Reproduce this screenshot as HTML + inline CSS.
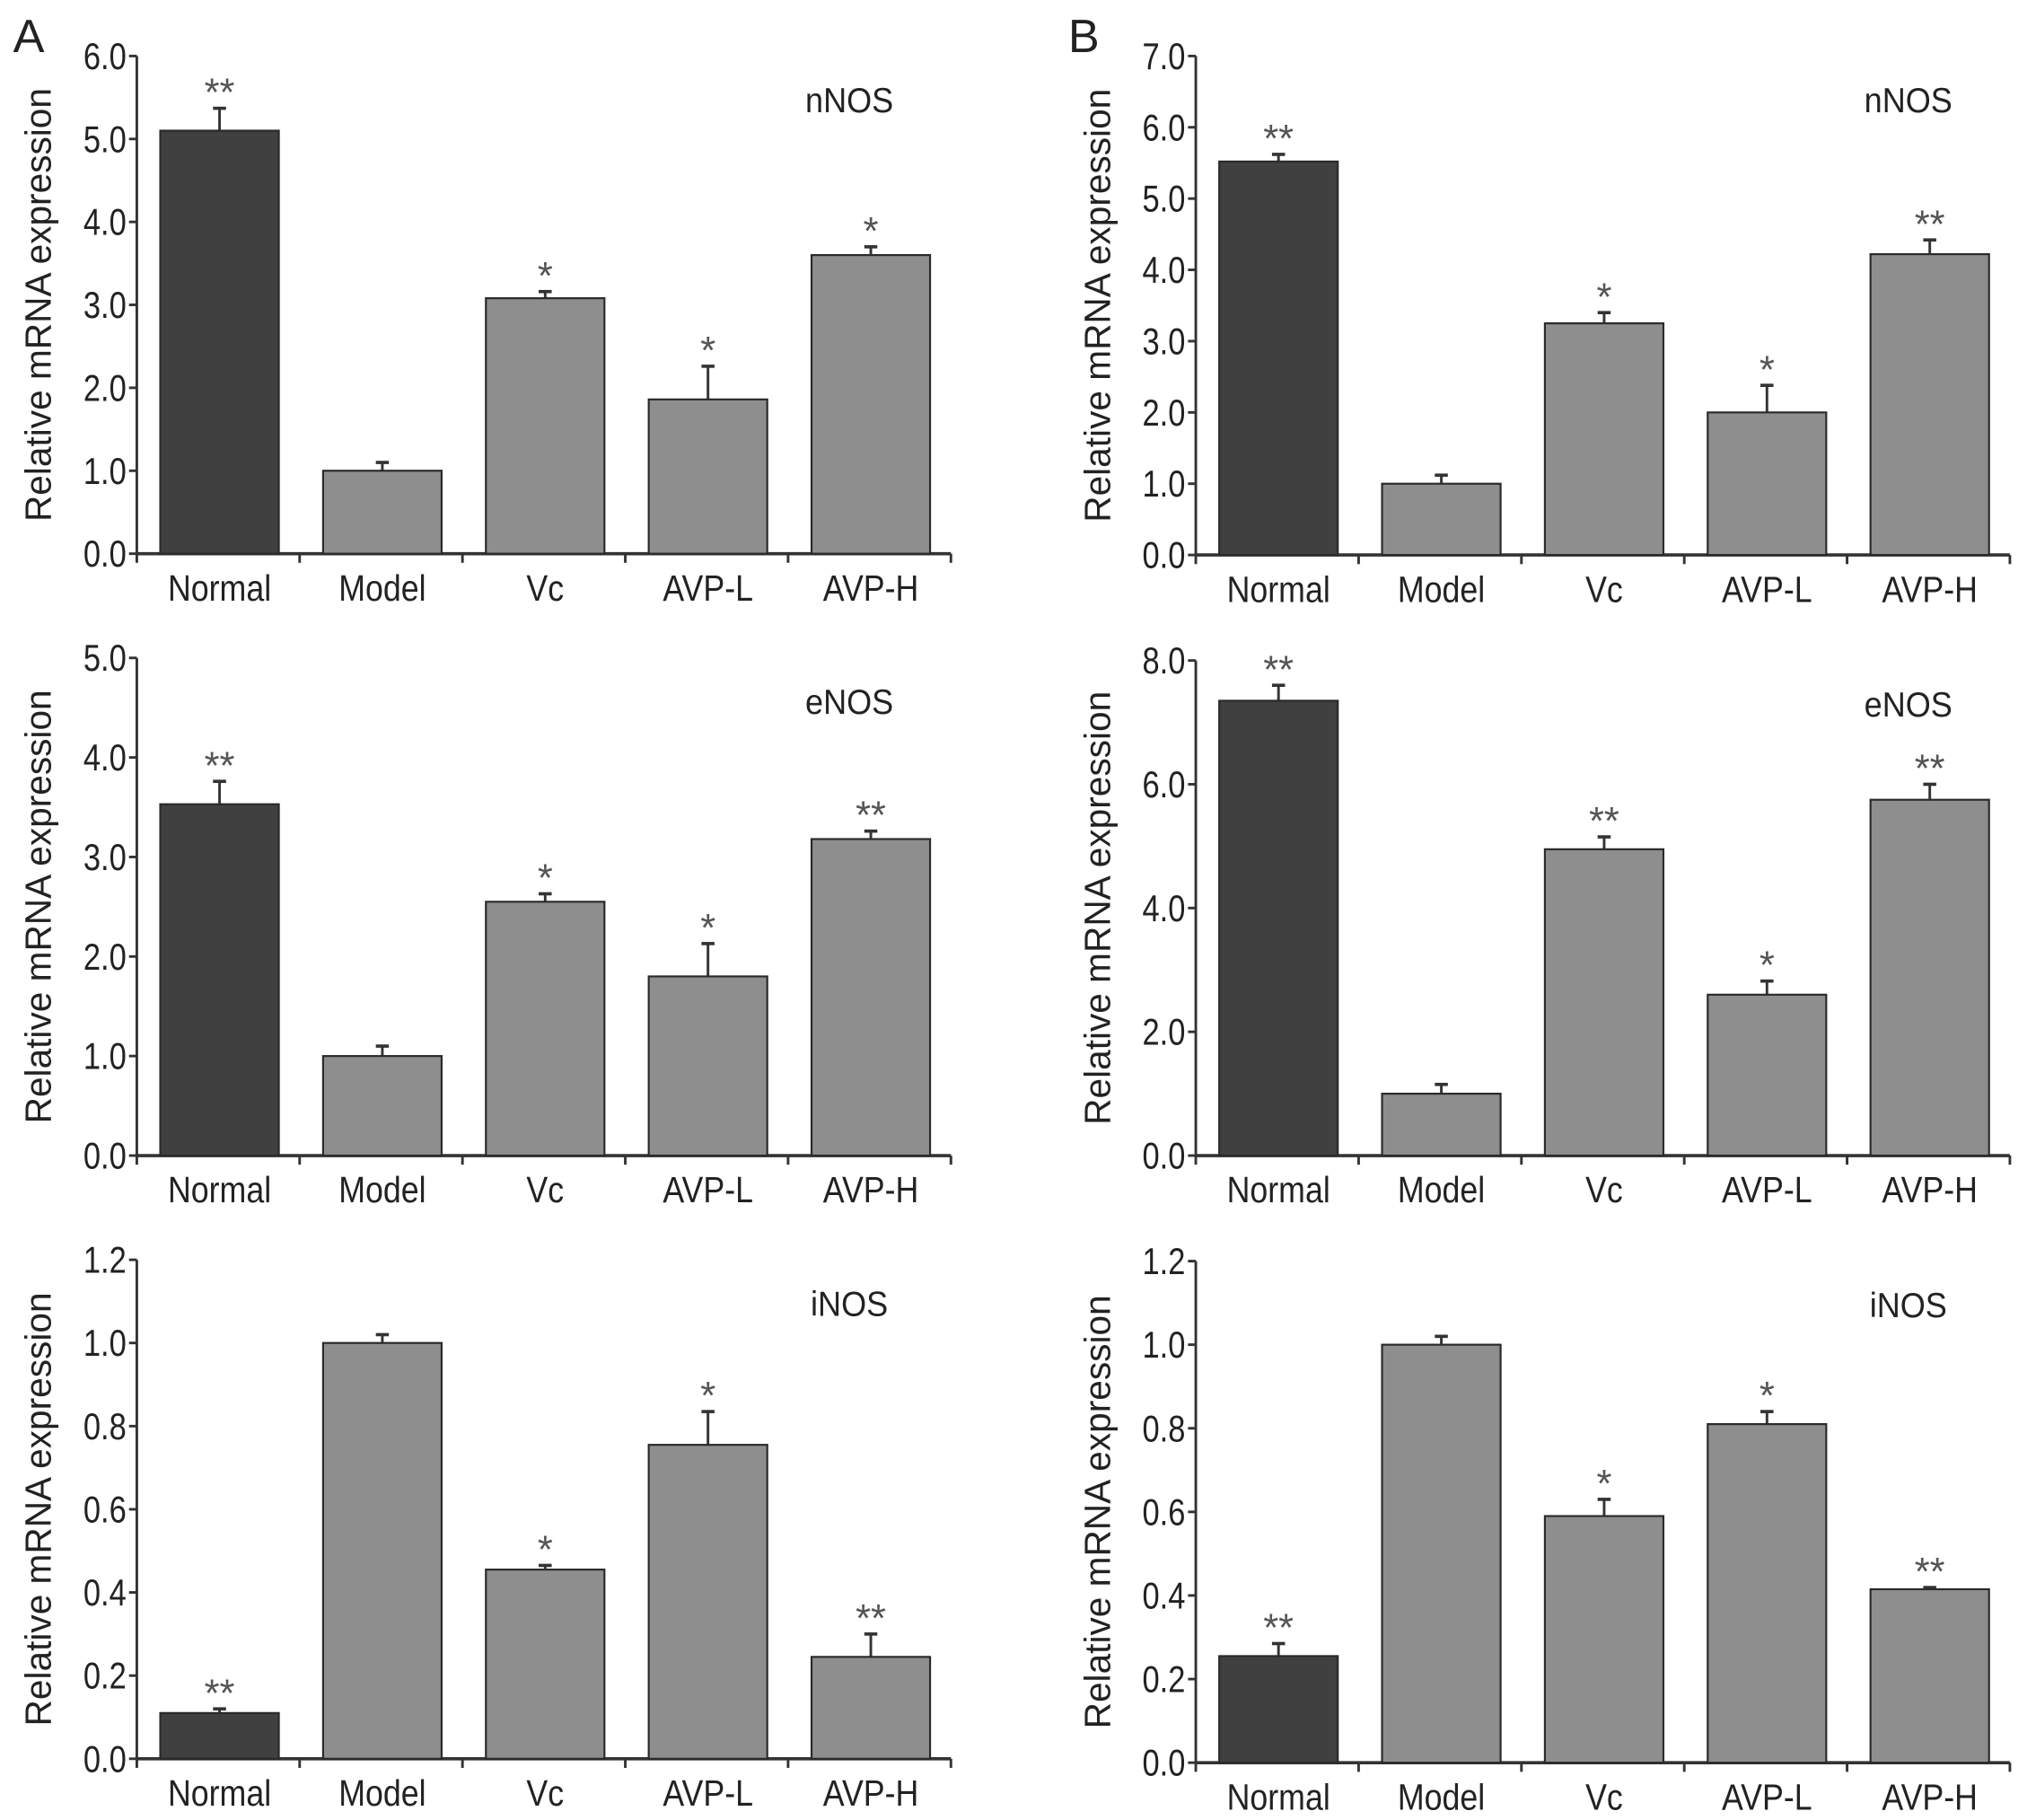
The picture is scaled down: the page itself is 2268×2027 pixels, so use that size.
<!DOCTYPE html>
<html><head><meta charset="utf-8"><style>
html,body{margin:0;padding:0;background:#fff;}
svg{display:block;}
text{font-family:"Liberation Sans",sans-serif;}
</style></head><body>
<svg id="fig" width="2268" height="2027" viewBox="0 0 1563 1397" xmlns="http://www.w3.org/2000/svg">
<text x="10" y="40" font-size="36" fill="#222">A</text>
<text x="820" y="40" font-size="36" fill="#222">B</text>
</svg>
<script>
const categories = ["Normal","Model","Vc","AVP-L","AVP-H"];
const aNnosVals = [5.1,1.0,3.08,1.86,3.6];
const aNnosErr = [0.27,0.1,0.08,0.4,0.1];
const aNnosSig = ["**","","*","*","*"];
const aEnosVals = [3.53,1.0,2.55,1.8,3.18];
const aEnosErr = [0.23,0.1,0.08,0.33,0.08];
const aEnosSig = ["**","","*","*","**"];
const aInosVals = [0.11,1.0,0.455,0.755,0.245];
const aInosErr = [0.01,0.02,0.01,0.08,0.055];
const aInosSig = ["**","","*","*","**"];
const bNnosVals = [5.52,1.0,3.25,2.0,4.22];
const bNnosErr = [0.1,0.12,0.15,0.38,0.2];
const bNnosSig = ["**","","*","*","**"];
const bEnosVals = [7.35,1.0,4.95,2.6,5.75];
const bEnosErr = [0.25,0.15,0.2,0.22,0.25];
const bEnosSig = ["**","","**","*","**"];
const bInosVals = [0.255,1.0,0.59,0.81,0.415];
const bInosErr = [0.03,0.02,0.04,0.03,0.004];
const bInosSig = ["**","","*","*","**"];
const ticksNnosA = [0,1,2,3,4,5,6];
const ticksEnosA = [0,1,2,3,4,5];
const ticks12 = [0,0.2,0.4,0.6,0.8,1.0,1.2];
const ticksNnosB = [0,1,2,3,4,5,6,7];
const ticksEnosB = [0,2,4,6,8];

const NS="http://www.w3.org/2000/svg";
const svg=document.getElementById('fig');
function mk(tag,attrs,parent){const e=document.createElementNS(NS,tag);for(const k in attrs)e.setAttribute(k,attrs[k]);(parent||svg).appendChild(e);return e;}

function panel(id,x0,yTop,yBot,ticks,vals,errs,sigs,gene,yTitleX){
  const g=mk('g',{});
  
  
  const max=ticks[ticks.length-1];
  const y=v=>yBot-(v/max)*(yBot-yTop);
  const step=125;
  const xEnd=x0+step*5;
  const band=i=>x0+18+i*step;
  const bw=91;
  const ya=mk('line',{x1:x0,y1:yTop,x2:x0,y2:yBot,stroke:'#333','stroke-width':2},g);
  
  
  ticks.forEach(t=>{
    mk('line',{x1:x0-6,y1:y(t),x2:x0,y2:y(t),stroke:'#333','stroke-width':2},g);
    const tl=mk('text',{x:x0-8,y:y(t)+10,'font-size':29,'text-anchor':'end',fill:'#222',transform:`translate(${x0-8},0) scale(0.82,1) translate(${-(x0-8)},0)`},g);
    tl.textContent=t.toFixed(1);
    
    
  });
  const xa=mk('line',{x1:x0,y1:yBot,x2:xEnd,y2:yBot,stroke:'#333','stroke-width':2.5},g);
  
  
  for(let i=0;i<=5;i++) mk('line',{x1:x0+i*step,y1:yBot,x2:x0+i*step,y2:yBot+7,stroke:'#333','stroke-width':2},g);
  categories.forEach((c,i)=>{
    const cx=band(i)+bw/2;
    const v=vals[i], e=errs[i];
    mk('line',{x1:cx,y1:y(v),x2:cx,y2:y(v+e),stroke:'#333','stroke-width':2},g);
    mk('line',{x1:cx-5,y1:y(v+e),x2:cx+5,y2:y(v+e),stroke:'#333','stroke-width':2.5},g);
    const r=mk('rect',{x:band(i),y:y(v),width:bw,height:yBot-y(v),fill:i===0?'#404040':'#8e8e8e',stroke:'#2a2a2a','stroke-width':1.5},g);
    
    
    if(sigs[i]){
      const s=mk('text',{x:cx,y:y(v+e)-2,'font-size':30,'text-anchor':'middle',fill:'#555'},g);
      s.textContent=sigs[i];
      
      
    }
    const xl=mk('text',{x:cx,y:yBot+36,'font-size':28,'text-anchor':'middle',fill:'#222',transform:`translate(${cx},0) scale(0.88,1) translate(${-cx},0)`},g);
    xl.textContent=c;
    
    
  });
  const gl=mk('text',{x:xEnd-78,y:yTop+43,'font-size':27,'text-anchor':'middle',fill:'#222',transform:`translate(${xEnd-78},0) scale(0.92,1) translate(${-(xEnd-78)},0)`},g);
  gl.textContent=gene;
  
  
  const cy=(yTop+yBot)/2;
  const yt=mk('text',{x:yTitleX,y:cy,'font-size':28,'text-anchor':'middle',fill:'#222',transform:`rotate(-90 ${yTitleX} ${cy})`},g);
  yt.textContent='Relative mRNA expression';
  
  
}
panel('a-nnos',105,43,425,ticksNnosA,aNnosVals,aNnosErr,aNnosSig,'nNOS',39);
panel('a-enos',105,505,887,ticksEnosA,aEnosVals,aEnosErr,aEnosSig,'eNOS',39);
panel('a-inos',105,967,1350,ticks12,aInosVals,aInosErr,aInosSig,'iNOS',39);
panel('b-nnos',918,43,426,ticksNnosB,bNnosVals,bNnosErr,bNnosSig,'nNOS',852);
panel('b-enos',918,507,887,ticksEnosB,bEnosVals,bEnosErr,bEnosSig,'eNOS',852);
panel('b-inos',918,968,1353,ticks12,bInosVals,bInosErr,bInosSig,'iNOS',852);
</script>
</body></html>
